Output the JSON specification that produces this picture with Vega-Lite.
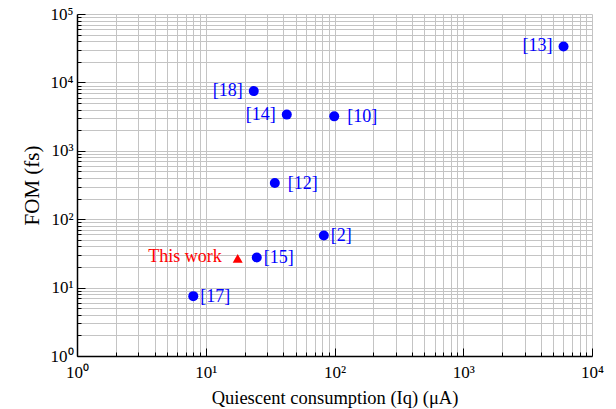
{
  "$schema": "https://vega.github.io/schema/vega-lite/v6.json",
  "width": 515,
  "height": 342,
  "autosize": "none",
  "padding": {"left": 77, "top": 14, "right": 24, "bottom": 53},
  "config": {
    "font": "Liberation Serif",
    "view": {"stroke": null},
    "axis": {
      "labelFont": "Liberation Serif",
      "titleFont": "Liberation Serif",
      "labelFontSize": 17,
      "titleFontSize": 18.5,
      "titleFontWeight": "normal",
      "labelColor": "black",
      "titleColor": "black",
      "domainColor": "black",
      "domainWidth": 1.5,
      "tickColor": "black",
      "tickWidth": 1,
      "gridColor": "#c4c4c4",
      "gridWidth": 1,
      "gridOpacity": 1,
      "labelOverlap": false,
      "labelFlush": false
    }
  },
  "data": {
    "values": [
      {"ref": "[13]", "iq": 6010, "fom": 33500, "source": "ref"},
      {"ref": "[18]", "iq": 23.6, "fom": 7460, "source": "ref"},
      {"ref": "[14]", "iq": 42.6, "fom": 3380, "source": "ref"},
      {"ref": "[10]", "iq": 99.5, "fom": 3190, "source": "ref"},
      {"ref": "[12]", "iq": 34.4, "fom": 339, "source": "ref"},
      {"ref": "[2]", "iq": 82.6, "fom": 57.8, "source": "ref"},
      {"ref": "[15]", "iq": 24.9, "fom": 27.6, "source": "ref"},
      {"ref": "[17]", "iq": 8.0, "fom": 7.5, "source": "ref"},
      {"ref": "This work", "iq": 17.7, "fom": 26.7, "source": "this"}
    ]
  },
  "encoding": {
    "x": {
      "field": "iq",
      "type": "quantitative",
      "scale": {"type": "log", "domain": [1, 10000], "nice": false},
      "axis": {
        "title": "Quiescent consumption (Iq) (μA)",
        "titlePadding": 4,
        "grid": true,
        "values": [1,2,3,4,5,6,7,8,9,10,20,30,40,50,60,70,80,90,100,200,300,400,500,600,700,800,900,1000,2000,3000,4000,5000,6000,7000,8000,9000,10000],
        "labelExpr": "datum.value == 1 ? '10⁰' : datum.value == 10 ? '10¹' : datum.value == 100 ? '10²' : datum.value == 1000 ? '10³' : datum.value == 10000 ? '10⁴' : ''",
        "tickSize": {"condition": {"test": "indexof([1,10,100,1000,10000], datum.value) >= 0", "value": -8}, "value": -4},
        "labelPadding": 16
      }
    },
    "y": {
      "field": "fom",
      "type": "quantitative",
      "scale": {"type": "log", "domain": [1, 100000], "nice": false},
      "axis": {
        "title": "FOM (fs)",
        "titleFontSize": 21,
        "titlePadding": 8,
        "grid": true,
        "values": [1,2,3,4,5,6,7,8,9,10,20,30,40,50,60,70,80,90,100,200,300,400,500,600,700,800,900,1000,2000,3000,4000,5000,6000,7000,8000,9000,10000,20000,30000,40000,50000,60000,70000,80000,90000,100000],
        "labelExpr": "datum.value == 1 ? '10⁰' : datum.value == 10 ? '10¹' : datum.value == 100 ? '10²' : datum.value == 1000 ? '10³' : datum.value == 10000 ? '10⁴' : datum.value == 100000 ? '10⁵' : ''",
        "tickSize": {"condition": {"test": "indexof([1,10,100,1000,10000,100000], datum.value) >= 0", "value": -8}, "value": -4},
        "labelPadding": 12
      }
    }
  },
  "layer": [
    {
      "mark": {"type": "point", "filled": true, "opacity": 1, "size": 100},
      "encoding": {
        "color": {"field": "source", "type": "nominal", "scale": {"domain": ["ref", "this"], "range": ["#0000ff", "#ff0000"]}, "legend": null},
        "shape": {"field": "source", "type": "nominal", "scale": {"domain": ["ref", "this"], "range": ["circle", "triangle-up"]}, "legend": null}
      }
    },
    {
      "transform": [{"filter": {"field": "ref", "oneOf": ["[13]", "[18]", "[14]"]}}],
      "mark": {"type": "text", "align": "right", "baseline": "middle", "dx": -11, "dy": 0, "fontSize": 18, "color": "#0000ff"},
      "encoding": {"text": {"field": "ref"}}
    },
    {
      "transform": [{"filter": {"field": "ref", "oneOf": ["[10]", "[12]"]}}],
      "mark": {"type": "text", "align": "left", "baseline": "middle", "dx": 13, "dy": 1, "fontSize": 18, "color": "#0000ff"},
      "encoding": {"text": {"field": "ref"}}
    },
    {
      "transform": [{"filter": {"field": "ref", "oneOf": ["[2]", "[15]", "[17]"]}}],
      "mark": {"type": "text", "align": "left", "baseline": "middle", "dx": 7, "dy": 1, "fontSize": 18, "color": "#0000ff"},
      "encoding": {"text": {"field": "ref"}}
    },
    {
      "transform": [{"filter": {"field": "source", "equal": "this"}}],
      "mark": {"type": "text", "align": "right", "baseline": "middle", "dx": -16, "dy": -1, "fontSize": 18, "color": "#ff0000"},
      "encoding": {"text": {"field": "ref"}}
    }
  ]
}
